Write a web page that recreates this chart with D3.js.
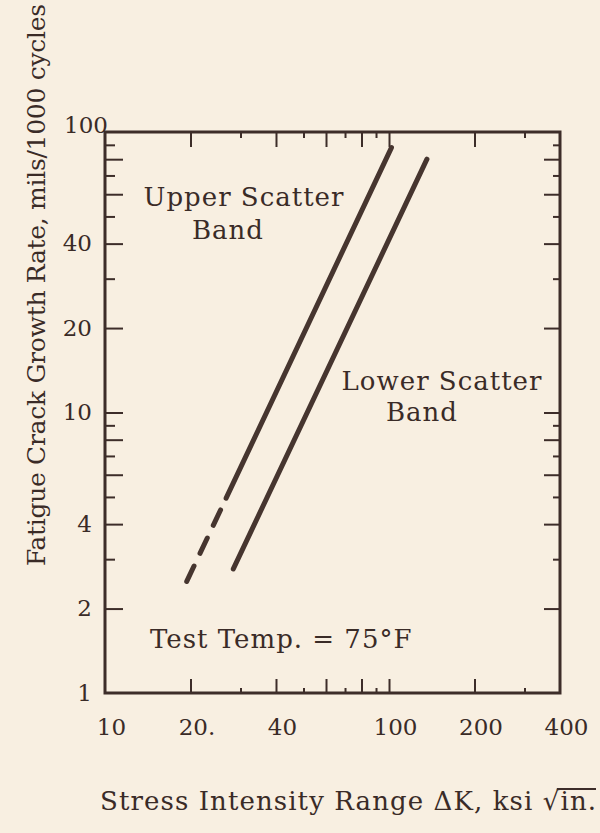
<!DOCTYPE html>
<html>
<head>
<meta charset="utf-8">
<script src="https://cdn.jsdelivr.net/npm/d3@7"></script>
<style>
  html, body { margin: 0; padding: 0; background: #f8efe1; }
  svg { display: block; }
  text { font-family: "DejaVu Serif", "Liberation Serif", serif; fill: #3a2b27; }
</style>
</head>
<body>
<svg id="chart" width="600" height="833"></svg>
<script>
// Stress intensity range ΔK (ksi√in.) — log axis ticks and labels
const dkLabelValues = [10, 20, 40, 100, 200, 400];
const dkLabelText   = ["10", "20.", "40", "100", "200", "400"];
const dkTicksLong   = [20, 40, 60, 80, 100, 200];
const dkTicksShort  = [30, 50, 70, 90, 300];

// Fatigue crack growth rate (mils/1000 cycles) — log axis ticks and labels
const rateLabelValues = [1, 2, 4, 10, 20, 40, 100];
const rateTicksLong   = [2, 4, 6, 8, 10, 20, 40, 60, 80];
const rateTicksShort  = [3, 5, 7, 9, 30, 50, 70, 90];

// Upper scatter band: first segment is extrapolated (dashed)
const upperBandDK   = [19.4, 26.7, 102];
const upperBandRate = [2.5, 4.95, 88];
// Lower scatter band
const lowerBandDK   = [28.3, 136];
const lowerBandRate = [2.77, 80];

(function draw() {
  const ink = "#3d2d29";
  const svg = d3.select("#chart");
  const mLeft = 105, mRight = 560, mTop = 132, mBottom = 693;

  const x = d3.scaleLog().domain([10, 400]).range([mLeft, mRight]);
  const y = d3.scaleLog().domain([1, 100]).range([mBottom, mTop]);

  // tick marks on all four sides, pointing inward
  function ticks(axisFn, values, size, transform) {
    const g = svg.append("g").attr("transform", transform)
      .call(axisFn.tickValues(values).tickSize(size).tickFormat(""));
    g.select(".domain").remove();
    g.selectAll(".tick line").attr("stroke", ink).attr("stroke-width", 2);
    return g;
  }
  ticks(d3.axisBottom(x), dkTicksLong, 15, `translate(0,${mTop})`);
  ticks(d3.axisBottom(x), dkTicksShort, 6, `translate(0,${mTop})`);
  ticks(d3.axisTop(x), dkTicksLong, 14, `translate(0,${mBottom})`);
  ticks(d3.axisTop(x), dkTicksShort, 5, `translate(0,${mBottom})`);
  ticks(d3.axisRight(y), rateTicksLong, 18, `translate(${mLeft},0)`);
  ticks(d3.axisRight(y), rateTicksShort, 10, `translate(${mLeft},0)`);
  ticks(d3.axisLeft(y), rateTicksLong, 16, `translate(${mRight},0)`);
  ticks(d3.axisLeft(y), rateTicksShort, 7, `translate(${mRight},0)`);

  // frame
  svg.append("rect")
    .attr("x", mLeft).attr("y", mTop)
    .attr("width", mRight - mLeft).attr("height", mBottom - mTop)
    .attr("fill", "none").attr("stroke", ink).attr("stroke-width", 3);

  // x tick labels
  const xl = svg.append("g").attr("transform", `translate(0,${mBottom})`)
    .call(d3.axisBottom(x).tickValues(dkLabelValues).tickSize(0).tickPadding(26)
      .tickFormat((d, i) => dkLabelText[i]));
  xl.select(".domain").remove();
  xl.selectAll("text").attr("font-size", 23).attr("dx", 6)
    .attr("font-family", "DejaVu Serif").attr("fill", ink);

  // y tick labels
  const yl = svg.append("g").attr("transform", `translate(${mLeft},0)`)
    .call(d3.axisLeft(y).tickValues(rateLabelValues).tickSize(0).tickPadding(13)
      .tickFormat(d3.format("d")));
  yl.select(".domain").remove();
  yl.selectAll("text").attr("font-size", 23)
    .attr("font-family", "DejaVu Serif").attr("fill", ink);
  yl.selectAll(".tick").filter(d => d === 100).select("text")
    .attr("dx", 16).attr("dy", "0.0em");

  // scatter band lines
  const line = d3.line().x(d => x(d[0])).y(d => y(d[1]));
  const upper = upperBandDK.map((d, i) => [d, upperBandRate[i]]);
  const lower = lowerBandDK.map((d, i) => [d, lowerBandRate[i]]);

  const bands = svg.append("g").attr("fill", "none").attr("stroke", "#46352f")
    .attr("stroke-width", 5).attr("stroke-linecap", "round");
  bands.append("path").attr("d", line(upper.slice(0, 2))).attr("stroke-dasharray", "17,14");
  bands.append("path").attr("d", line(upper.slice(1)));
  bands.append("path").attr("d", line(lower));

  // annotations
  function label(txt, cx, by, anchor = "middle") {
    return svg.append("text").attr("x", cx).attr("y", by)
      .attr("text-anchor", anchor).attr("font-size", 26)
      .attr("letter-spacing", 1).attr("fill", ink).text(txt);
  }
  label("Upper Scatter", 244, 206);
  label("Band", 228, 239);
  label("Lower Scatter", 442, 390);
  label("Band", 422, 421);
  label("Test Temp. = 75°F", 150, 648, "start");

  // axis titles
  svg.append("text")
    .attr("transform", "translate(45,285) rotate(-90)")
    .attr("text-anchor", "middle").attr("font-size", 25)
    .attr("fill", ink)
    .attr("textLength", 562).attr("lengthAdjust", "spacing")
    .text("Fatigue Crack Growth Rate, mils/1000 cycles");

  const title = "Stress Intensity Range ΔK, ksi √in.";
  const xt = svg.append("text")
    .attr("x", 100).attr("y", 810)
    .attr("font-size", 26).attr("fill", ink)
    .attr("textLength", 496).attr("lengthAdjust", "spacing")
    .text(title);
  // radical overline across "in."
  const node = xt.node();
  const i0 = title.indexOf("√");
  const i1 = title.length - 1;
  const xs = node.getStartPositionOfChar(i0).x + 14;
  const xe = node.getEndPositionOfChar(i1).x;
  svg.append("line").attr("x1", xs).attr("x2", xe)
    .attr("y1", 810 - 21).attr("y2", 810 - 21)
    .attr("stroke", ink).attr("stroke-width", 1.8);
})();
</script>
</body>
</html>
